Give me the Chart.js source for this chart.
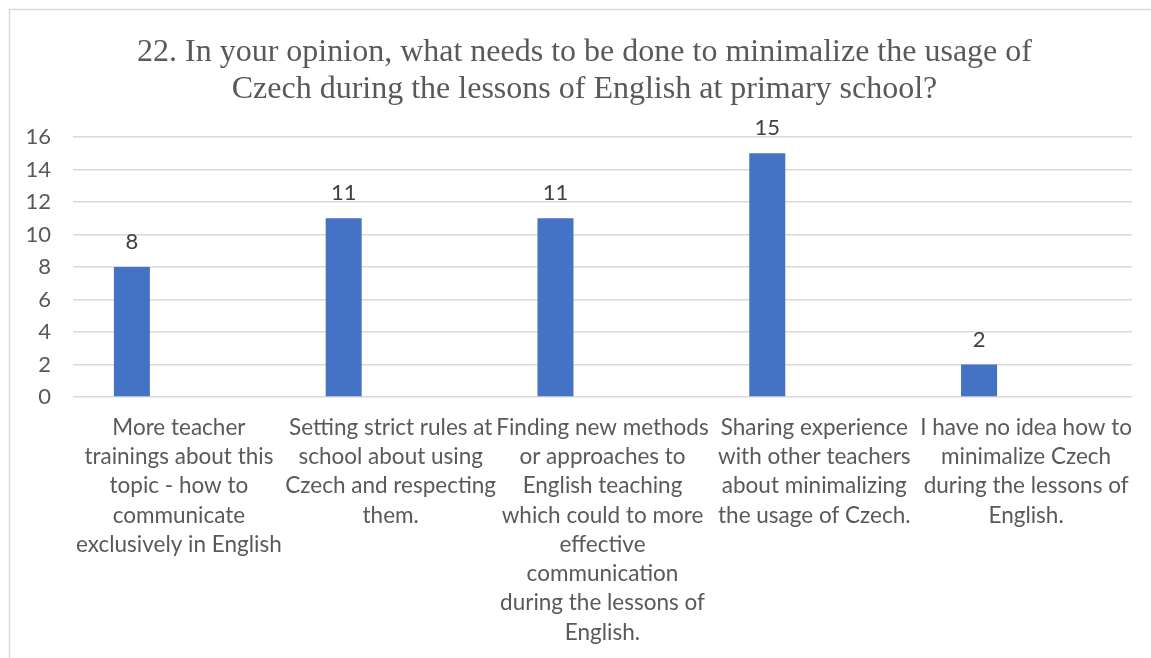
<!DOCTYPE html>
<html>
<head>
<meta charset="utf-8">
<script src="https://cdn.jsdelivr.net/npm/chart.js@4/dist/chart.umd.min.js"></script>
<style>
html,body{margin:0;padding:0;background:#fff;}
#wrap{position:relative;width:1151px;height:658px;}
</style>
</head>
<body>
<div id="wrap"><canvas id="c" width="1151" height="658"></canvas></div>
<script>
const titleLines = [
  "22. In your opinion, what needs to be done to minimalize the usage of",
  "Czech during the lessons of English at primary school?"
];
const categories = [
  ["More teacher", "trainings about this", "topic - how to", "communicate", "exclusively in English"],
  ["Setting strict rules at", "school about using", "Czech and respecting", "them."],
  ["Finding new methods", "or approaches to", "English teaching", "which could to more", "effective", "communication", "during the lessons of", "English."],
  ["Sharing experience", "with other teachers", "about minimalizing", "the usage of Czech."],
  ["I have no idea how to", "minimalize Czech", "during the lessons of", "English."]
];
const values = [8, 11, 11, 15, 2];
const emptySeries = [null, null, null, null, null];
const yTicks = [0, 2, 4, 6, 8, 10, 12, 14, 16];

const textColor = "#595959";
const gridColor = "#d9d9d9";
const sansFont = "Lato";

const borderPlugin = {
  id: "frame",
  beforeDraw(chart) {
    const ctx = chart.ctx;
    ctx.save();
    ctx.fillStyle = "#fff";
    ctx.fillRect(0, 0, chart.width, chart.height);
    ctx.strokeStyle = gridColor;
    ctx.lineWidth = 1.5;
    ctx.beginPath();
    ctx.moveTo(9.5, chart.height + 2);
    ctx.lineTo(9.5, 9.5);
    ctx.lineTo(chart.width + 2, 9.5);
    ctx.stroke();
    ctx.restore();
  },
  afterDraw(chart) {
    const ctx = chart.ctx;
    ctx.save();
    ctx.fillStyle = textColor;
    ctx.font = "32px 'Liberation Serif'";
    ctx.textAlign = "center";
    ctx.textBaseline = "middle";
    const cx = 584.5;
    titleLines.forEach((line, i) => ctx.fillText(line, cx, 53 + i * 36.2));
    ctx.restore();
  }
};

const labelPlugin = {
  id: "valueLabels",
  afterDatasetsDraw(chart) {
    const ctx = chart.ctx;
    const meta = chart.getDatasetMeta(0);
    ctx.save();
    ctx.fillStyle = "#404040";
    ctx.font = "22px " + sansFont;
    ctx.textAlign = "center";
    ctx.textBaseline = "middle";
    meta.data.forEach((bar, i) => {
      ctx.fillText(String(values[i]), bar.x, bar.y - 25);
    });
    ctx.restore();
  }
};

new Chart(document.getElementById("c"), {
  type: "bar",
  data: {
    labels: categories,
    datasets: [
      { data: values, backgroundColor: "#4472C4", borderWidth: 0 },
      { data: emptySeries, backgroundColor: "#ED7D31", borderWidth: 0 }
    ]
  },
  options: {
    responsive: false,
    animation: false,
    devicePixelRatio: 1,
    categoryPercentage: 0.888,
    barPercentage: 0.383,
    layout: { padding: { left: 0, right: 19, top: 137, bottom: 0 } },
    plugins: {
      legend: { display: false },
      tooltip: { enabled: false },
      title: { display: false }
    },
    scales: {
      x: {
        grid: { display: false, drawTicks: false },
        border: { display: false },
        ticks: {
          color: textColor,
          font: { family: sansFont, size: 22.5, lineHeight: 1.3 },
          maxRotation: 0,
          autoSkip: false,
          padding: 16
        },
        afterFit(scale) { scale.height = 261; }
      },
      y: {
        min: 0,
        max: 16,
        afterBuildTicks(scale) { scale.ticks = yTicks.map(v => ({ value: v })); },
        grid: { color: gridColor, lineWidth: 1.5, drawTicks: false },
        border: { display: false },
        ticks: {
          color: textColor,
          font: { family: sansFont, size: 22 },
          padding: 22
        },
        afterFit(scale) { scale.width = 73; }
      }
    }
  },
  plugins: [borderPlugin, labelPlugin]
});
</script>
</body>
</html>
